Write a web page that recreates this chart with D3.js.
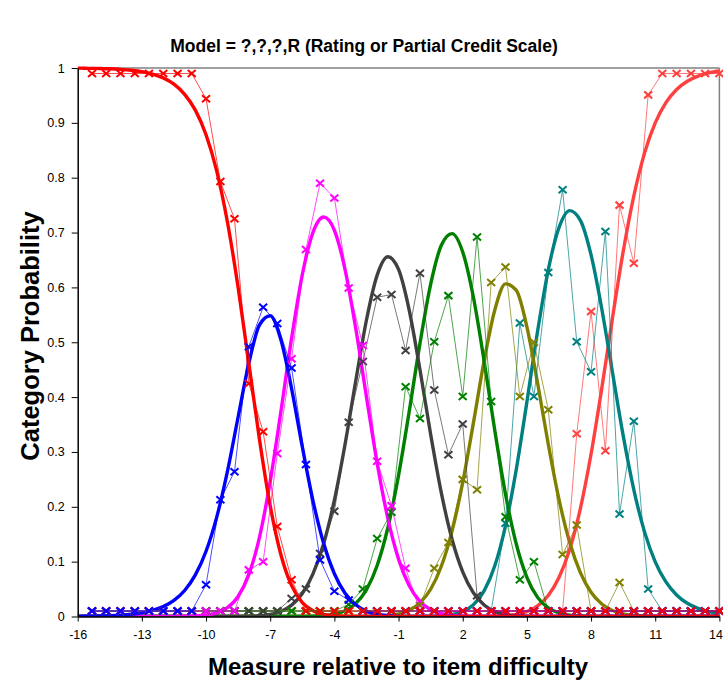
<!DOCTYPE html>
<html>
<head>
<meta charset="utf-8">
<script src="https://cdn.jsdelivr.net/npm/d3@7/dist/d3.min.js"></script>
<style>
  body { margin: 0; background: #fff; }
  svg  { display: block; font-family: "Liberation Sans", Arial, sans-serif; }
</style>
</head>
<body>
<svg id="chart" width="723" height="682"></svg>
<script>
// ---- data ----
const titleText  = 'Model = ?,?,?,R (Rating or Partial Credit Scale)';
const xLabelText = 'Measure relative to item difficulty';
const yLabelText = 'Category Probability';

const xTicks = [-16, -13, -10, -7, -4, -1, 2, 5, 8, 11, 14];
const yTicks = [0, 0.1, 0.2, 0.3, 0.4, 0.5, 0.6, 0.7, 0.8, 0.9, 1];

// smooth model curves, sampled every half unit of measure
const modelX = [-16,-15.5,-15,-14.5,-14,-13.5,-13,-12.5,-12,-11.5,-11,-10.5,-10,-9.5,-9,-8.5,-8,-7.5,-7,-6.5,-6,-5.5,-5,-4.5,-4,-3.5,-3,-2.5,-2,-1.5,-1,-0.5,0,0.5,1,1.5,2,2.5,3,3.5,4,4.5,5,5.5,6,6.5,7,7.5,8,8.5,9,9.5,10,10.5,11,11.5,12,12.5,13,13.5,14];
const model0 = [0.9997,0.9994,0.9991,0.9985,0.9975,0.9959,0.9933,0.989,0.982,0.9705,0.952,0.9232,0.8784,0.8121,0.7193,0.5997,0.4616,0.3224,0.2017,0.1126,0.0562,0.0254,0.0105,0.004,0.0014,0.0005,0.0001,
                0,0,0,0,0,0,0,0,0,0,0,0,0,0,0,0,0,0,0,0,0,0,0,0,0,0,0,0,0,0,0,0,0,0,0];
const model1 = [0.0003,0.0006,0.0009,0.0015,0.0025,0.0041,0.0067,0.011,0.018,0.0293,0.0474,0.0758,0.1189,0.1812,0.2646,0.3637,0.4616,0.5315,0.5483,0.5045,0.4155,0.3094,0.211,0.133,0.078,0.0425,0.0214,0.0099,0.0042,0.0016,0.0006,0.0002,0.0001,
                0,0,0,0,0,0,0,0,0,0,0,0,0,0,0,0,0,0,0,0,0,0,0,0,0,0,0,0,0];
const model2 = [0,0,0,0,0,0,0,0,0.0001,0.0001,0.0004,0.001,0.0027,0.0067,0.0161,0.0365,0.0763,0.1448,0.2463,0.3737,0.5075,0.6231,0.7004,0.7283,0.7042,0.6325,0.525,0.4004,0.2797,0.1788,0.1046,0.056,0.0274,0.0122,0.005,0.0019,0.0007,0.0002,0.0001,
                0,0,0,0,0,0,0,0,0,0,0,0,0,0,0,0,0,0,0,0,0,0];
const model3 = [0,0,0,0,0,0,0,0,0,0,0,0,0,0,0,0.0001,0.0004,0.0013,0.0037,0.0092,0.0207,0.0419,0.0776,0.133,0.2121,0.3141,0.4298,0.5405,0.6224,0.656,0.6328,0.5583,0.4502,0.3322,0.2253,0.1409,0.0814,0.0432,0.021,0.0093,0.0037,0.0013,0.0004,0.0001,
                0,0,0,0,0,0,0,0,0,0,0,0,0,0,0,0,0];
const model4 = [0,0,0,0,0,0,0,0,0,0,0,0,0,0,0,0,0,0,0,0,0.0001,0.0002,0.0006,0.0016,0.0043,0.0105,0.0236,0.049,0.0931,0.1618,0.2573,0.3742,0.4975,0.6054,0.6768,0.698,0.6645,0.582,0.466,0.339,0.2231,0.1327,0.0715,0.0349,0.0156,0.0065,0.0025,0.0009,0.0003,0.0001,
                0,0,0,0,0,0,0,0,0,0,0];
const model5 = [0,0,0,0,0,0,0,0,0,0,0,0,0,0,0,0,0,0,0,0,0,0,0,0,0,0,0.0001,0.0002,0.0006,0.0018,0.0047,0.0113,0.0248,0.0497,0.0916,0.1557,0.2445,0.353,0.466,0.5589,0.6065,0.595,0.5281,0.4257,0.3139,0.2135,0.1352,0.08,0.0443,0.0229,0.011,0.0049,0.0021,0.0008,0.0003,0.0001,
                0,0,0,0,0];
const model6 = [0,0,0,0,0,0,0,0,0,0,0,0,0,0,0,0,0,0,0,0,0,0,0,0,0,0,0,0,0,0,0,
                0.0001,0.0001,0.0004,0.0012,0.0035,0.009,0.0215,0.0467,0.0924,0.1653,0.2673,0.3912,0.52,0.6321,0.7089,0.74,0.7223,0.6592,0.5612,0.4452,0.3302,0.231,0.1543,0.0997,0.063,0.0392,0.0241,0.0148,0.009,0.0055];
const model7 = [0,0,0,0,0,0,0,0,0,0,0,0,0,0,0,0,0,0,0,0,0,0,0,0,0,0,0,0,0,0,0,0,0,0,0,0,0,
                0.0001,0.0001,0.0004,0.0013,0.0036,0.0088,0.0192,0.0384,0.0711,0.1223,0.1968,0.2962,0.4158,0.5438,0.6649,0.7669,0.8448,0.8999,0.9369,0.9608,0.9759,0.9852,0.991,0.9945];

// empirical points (x marks)
const empX = [-15.33,-14.67,-14,-13.33,-12.67,-12,-11.33,-10.67,-10,-9.33,-8.67,-8,-7.33,-6.67,-6,-5.33,-4.67,-4,-3.33,-2.67,-2,-1.33,-0.67,0,0.67,1.33,2,2.67,3.33,4,4.67,5.33,6,6.67,7.33,8,8.67,9.33,10,10.67,11.33,12,12.67,13.33,14];
const emp0 = [0.99,0.99,0.99,0.99,0.99,0.99,0.99,0.99,0.944,0.793,0.725,0.425,0.337,0.164,0.067,0.01,0.01,0.01,0.01,0.01,0.01,0.01,0.01,0.01,0.01,0.01,0.01,0.01,0.01,0.01,0.01,0.01,0.01,0.01,0.01,0.01,0.01,0.01,0.01,0.01,0.01,0.01,0.01,0.01,0.01];
const emp1 = [0.01,0.01,0.01,0.01,0.01,0.01,0.01,0.01,0.058,0.213,0.264,0.492,0.564,0.534,0.453,0.277,0.103,0.046,0.03,0.01,0.01,0.01,0.01,0.01,0.01,0.01,0.01,0.01,0.01,0.01,0.01,0.01,0.01,0.01,0.01,0.01,0.01,0.01,0.01,0.01,0.01,0.01,0.01,0.01,0.01];
const emp2 = [0.01,0.01,0.01,0.01,0.01,0.01,0.01,0.01,0.01,0.01,0.01,0.085,0.10,0.297,0.47,0.669,0.79,0.763,0.599,0.494,0.283,0.202,0.088,0.01,0.01,0.01,0.01,0.01,0.01,0.01,0.01,0.01,0.01,0.01,0.01,0.01,0.01,0.01,0.01,0.01,0.01,0.01,0.01,0.01,0.01];
const emp3 = [0.01,0.01,0.01,0.01,0.01,0.01,0.01,0.01,0.01,0.01,0.01,0.01,0.01,0.01,0.033,0.05,0.115,0.192,0.354,0.465,0.582,0.587,0.485,0.626,0.413,0.295,0.351,0.038,0.01,0.01,0.01,0.01,0.01,0.01,0.01,0.01,0.01,0.01,0.01,0.01,0.01,0.01,0.01,0.01,0.01];
const emp4 = [0.01,0.01,0.01,0.01,0.01,0.01,0.01,0.01,0.01,0.01,0.01,0.01,0.01,0.01,0.01,0.01,0.01,0.01,0.022,0.05,0.142,0.19,0.419,0.361,0.501,0.585,0.401,0.692,0.392,0.182,0.067,0.10,0.01,0.01,0.01,0.01,0.01,0.01,0.01,0.01,0.01,0.01,0.01,0.01,0.01];
const emp5 = [0.01,0.01,0.01,0.01,0.01,0.01,0.01,0.01,0.01,0.01,0.01,0.01,0.01,0.01,0.01,0.01,0.01,0.01,0.01,0.01,0.01,0.01,0.01,0.02,0.088,0.135,0.25,0.231,0.609,0.637,0.401,0.50,0.377,0.113,0.167,0.01,0.01,0.062,0.01,0.01,0.01,0.01,0.01,0.01,0.01];
const emp6 = [0.01,0.01,0.01,0.01,0.01,0.01,0.01,0.01,0.01,0.01,0.01,0.01,0.01,0.01,0.01,0.01,0.01,0.01,0.01,0.01,0.01,0.01,0.01,0.01,0.01,0.01,0.01,0.01,0.01,0.17,0.535,0.401,0.627,0.778,0.501,0.446,0.702,0.187,0.356,0.05,0.01,0.01,0.01,0.01,0.01];
const emp7 = [0.01,0.01,0.01,0.01,0.01,0.01,0.01,0.01,0.01,0.01,0.01,0.01,0.01,0.01,0.01,0.01,0.01,0.01,0.01,0.01,0.01,0.01,0.01,0.01,0.01,0.01,0.01,0.01,0.01,0.01,0.01,0.01,0.01,0.01,0.333,0.556,0.302,0.75,0.644,0.951,0.99,0.99,0.99,0.99,0.99];

const modelSeries = [model0, model1, model2, model3, model4, model5, model6, model7];
const empSeries   = [emp0, emp1, emp2, emp3, emp4, emp5, emp6, emp7];

// ---- styles ----
const colors = ['#ff0000', '#0000ff', '#ff00ff', '#404040', '#008000', '#808000', '#008080', '#ff4040'];
const plot = { left: 77.7, right: 719.4, top: 68, bottom: 616.5 };

const svg = d3.select('#chart');
svg.append('rect').attr('width', 723).attr('height', 682).attr('fill', '#fff');

const x = d3.scaleLinear().domain([-16, 14]).range([plot.left, plot.right]);
const y = d3.scaleLinear().domain([0, 1]).range([plot.bottom, plot.top]);

svg.append('defs').append('clipPath').attr('id', 'clip')
  .append('rect')
  .attr('x', plot.left).attr('y', plot.top - 2)
  .attr('width', plot.right - plot.left).attr('height', plot.bottom - plot.top + 2);

// title
svg.append('text')
  .attr('x', 364).attr('y', 52)
  .attr('text-anchor', 'middle')
  .attr('font-size', 17.5).attr('font-weight', 'bold')
  .attr('fill', '#000')
  .text(titleText);

// frame: top + right border
svg.append('line')
  .attr('x1', plot.left).attr('x2', plot.right)
  .attr('y1', plot.top).attr('y2', plot.top)
  .attr('stroke', '#808080').attr('stroke-width', 1.5);
svg.append('line')
  .attr('x1', plot.right).attr('x2', plot.right)
  .attr('y1', plot.top).attr('y2', plot.bottom)
  .attr('stroke', '#808080').attr('stroke-width', 1.5);

// model curves
const curveLine = d3.line()
  .x((d, i) => x(modelX[i]))
  .y(d => y(d))
  .curve(d3.curveMonotoneX);

const curves = svg.append('g').attr('clip-path', 'url(#clip)');
for (let c = modelSeries.length - 1; c >= 0; c--) {
  curves.append('path')
    .datum(modelSeries[c])
    .attr('d', curveLine)
    .attr('fill', 'none')
    .attr('stroke', colors[c])
    .attr('stroke-width', 3.4)
    .attr('stroke-linejoin', 'round');
}

// empirical lines + x marks
const empLine = d3.line()
  .x((d, i) => x(empX[i]))
  .y(d => y(d));

const marks = svg.append('g');
for (let c = empSeries.length - 1; c >= 0; c--) {
  const g = marks.append('g');
  g.append('path')
    .datum(empSeries[c])
    .attr('d', empLine)
    .attr('fill', 'none')
    .attr('stroke', colors[c])
    .attr('stroke-opacity', 0.7)
    .attr('stroke-width', 1);
  g.selectAll('path.mk')
    .data(empSeries[c])
    .join('path')
    .attr('class', 'mk')
    .attr('transform', (d, i) => `translate(${x(empX[i])},${y(d)})`)
    .attr('d', 'M-4,-3.5L4,3.5M-4,3.5L4,-3.5')
    .attr('stroke', colors[c])
    .attr('stroke-width', 2)
    .attr('fill', 'none');
}

// axes
const xAxis = svg.append('g')
  .attr('transform', `translate(0,${plot.bottom})`)
  .call(d3.axisBottom(x).tickValues(xTicks).tickFormat(d => String(d)).tickSize(5).tickPadding(9).tickSizeOuter(0));
const yAxis = svg.append('g')
  .attr('transform', `translate(${plot.left},0)`)
  .call(d3.axisLeft(y).tickValues(yTicks).tickFormat(d => String(d)).tickSize(6).tickPadding(7).tickSizeOuter(0));

[xAxis, yAxis].forEach(a => {
  a.select('.domain').attr('stroke', '#000').attr('stroke-width', 1.5);
  a.selectAll('.tick line').attr('stroke', '#000');
  a.selectAll('.tick text')
    .attr('fill', '#000')
    .attr('font-size', 12.5)
    .attr('font-family', '"Liberation Sans", Arial, sans-serif');
});
// last x label sits against the right edge
xAxis.selectAll('.tick text').filter(d => d === 14)
  .attr('text-anchor', 'end').attr('x', 3);

// axis titles
svg.append('text')
  .attr('x', 398).attr('y', 675)
  .attr('text-anchor', 'middle')
  .attr('font-size', 24).attr('font-weight', 'bold')
  .text(xLabelText);
svg.append('text')
  .attr('transform', 'translate(39,336) rotate(-90)')
  .attr('text-anchor', 'middle')
  .attr('font-size', 25.5).attr('font-weight', 'bold')
  .text(yLabelText);
</script>
</body>
</html>
